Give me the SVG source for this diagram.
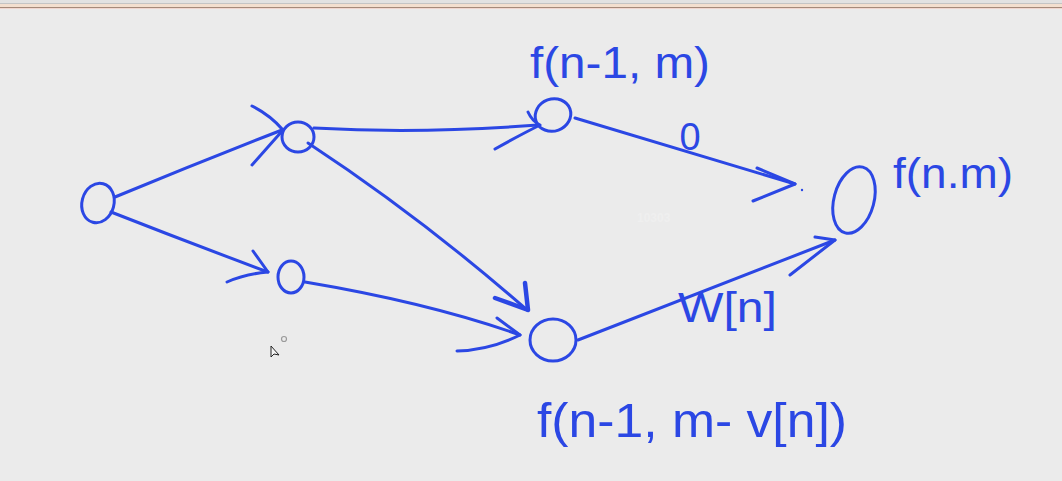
<svg xmlns="http://www.w3.org/2000/svg" width="1062" height="481" viewBox="0 0 1062 481">
<style>
.ink{fill:none;stroke:#2b47e4;stroke-width:3;stroke-linecap:round;stroke-linejoin:round}
.bold{stroke-width:4.5}
.lbl{fill:#2b47e4;font-family:"Liberation Sans","DejaVu Sans",sans-serif}
.wm{fill:#efefef;font-family:"Liberation Sans",sans-serif;font-weight:bold;font-size:12px}
</style>
<rect x="0" y="0" width="1062" height="481" fill="#ebebeb"/>
<rect x="0" y="0" width="1062" height="3" fill="#e2e2e2"/>
<rect x="0" y="3" width="1062" height="1" fill="#c4c4c4"/>
<rect x="0" y="4" width="1062" height="3" fill="#f3dfcf"/>
<rect x="0" y="7" width="1062" height="1" fill="#a58a7a"/>
<rect x="0" y="8" width="1062" height="1" fill="#f0d6cf"/>
<g id="connectors">
<path class="ink" d="M115,197 Q200,162 282,130"/>
<path class="ink" d="M252,106 Q270,115 283,130 L252,165"/>
<path class="ink" d="M111,212 Q190,243 268,272"/>
<path class="ink" d="M253,251 L268,272 Q245,274 227,282"/>
<path class="ink" d="M314,128 Q420,134 538,125"/>
<path class="ink" d="M495,149 Q520,135 540,125 M528,112 Q532,121 540,125"/>
<path class="ink" d="M308,143 Q422,218 527,310"/>
<path class="ink bold" d="M495,298 L528,310 L525,283"/>
<path class="ink" d="M305,282 Q430,303 520,335"/>
<path class="ink" d="M497,318 L520,335 Q490,350 457,351"/>
<path class="ink" d="M575,118 Q690,152 795,184"/>
<path class="ink" d="M757,168 L795,184 L753,201"/>
<circle cx="802" cy="190" r="1.2" fill="#2b47e4"/>
<path class="ink" d="M578,340 Q700,292 835,240"/>
<path class="ink" d="M815,237 L835,240 L790,275"/>
<text class="lbl" x="690" y="150" font-size="38" text-anchor="middle">0</text>
<text class="lbl" x="678" y="322" font-size="42" textLength="99" lengthAdjust="spacingAndGlyphs">W[n]</text>
</g>
<g id="nodeA"><ellipse class="ink" cx="98" cy="203" rx="16" ry="20" transform="rotate(15 98 203)"/></g>
<g id="nodeB"><ellipse class="ink" cx="298" cy="137" rx="16" ry="15"/></g>
<g id="nodeC"><ellipse class="ink" cx="291" cy="277" rx="13" ry="16"/></g>
<g id="nodeD"><ellipse class="ink" cx="553" cy="115" rx="18" ry="16" transform="rotate(-20 553 115)"/>
<text class="lbl" x="530" y="78" font-size="44" textLength="180" lengthAdjust="spacingAndGlyphs">f(n-1, m)</text></g>
<g id="nodeE"><ellipse class="ink" cx="553" cy="340" rx="23" ry="21"/>
<text class="lbl" x="537" y="437" font-size="48" textLength="310" lengthAdjust="spacingAndGlyphs">f(n-1, m- v[n])</text></g>
<g id="nodeF"><ellipse class="ink" cx="854" cy="200" rx="20" ry="34" transform="rotate(15 854 200)"/>
<text class="lbl" x="893" y="188" font-size="42" textLength="120" lengthAdjust="spacingAndGlyphs">f(n.m)</text></g>
<text class="wm" x="637" y="222">10303</text>
<circle cx="284" cy="339" r="2.5" fill="none" stroke="#9a9a9a" stroke-width="1.2"/>
<path d="M271,346 L271,357 L274,354 L279,355 Z" fill="#f4f4f4" stroke="#222" stroke-width="1"/>
</svg>
